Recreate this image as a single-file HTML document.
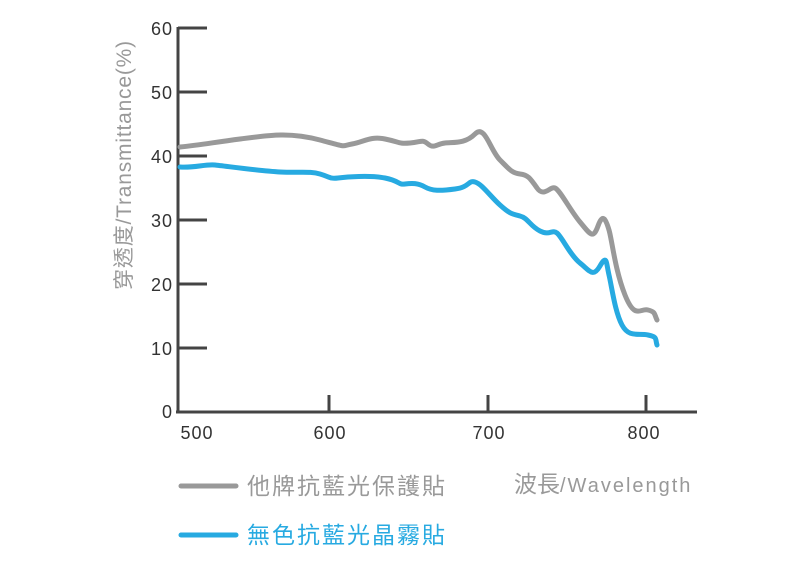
<!DOCTYPE html>
<html><head><meta charset="utf-8"><style>
body{margin:0;background:#fff;}
svg text{font-family:"Liberation Sans","Noto Sans CJK TC",sans-serif;}
</style></head><body>
<svg width="800" height="560" viewBox="0 0 800 560">
<g stroke="#444" stroke-width="3" fill="none">
<line x1="178" y1="27" x2="178" y2="413"/>
<line x1="176" y1="412" x2="697" y2="412"/>
<line x1="178" y1="28" x2="207" y2="28"/>
<line x1="178" y1="92" x2="207" y2="92"/>
<line x1="178" y1="156" x2="207" y2="156"/>
<line x1="178" y1="220" x2="207" y2="220"/>
<line x1="178" y1="284" x2="207" y2="284"/>
<line x1="178" y1="348" x2="207" y2="348"/>
<line x1="329" y1="395" x2="329" y2="412"/>
<line x1="488" y1="395" x2="488" y2="412"/>
<line x1="646" y1="395" x2="646" y2="412"/>
</g>
<g fill="#333" font-size="18" text-anchor="end" letter-spacing="1">
<text x="173" y="35">60</text><text x="173" y="99">50</text><text x="173" y="163">40</text>
<text x="173" y="227">30</text><text x="173" y="291">20</text><text x="173" y="355">10</text><text x="173" y="418">0</text>
</g>
<g fill="#333" font-size="18" text-anchor="middle" letter-spacing="1">
<text x="197" y="439">500</text><text x="330" y="439">600</text><text x="489" y="439">700</text><text x="644" y="439">800</text>
</g>
<text transform="translate(131,165) rotate(-90)" text-anchor="middle" fill="#999" font-size="21" letter-spacing="0.8">穿透度/Transmittance(%)</text>
<path fill="none" stroke="#999" stroke-width="5" stroke-linecap="round" stroke-linejoin="round"
d="M180,147 C200,145 210,143 240,139 S290,132 320,140 S340,146 352,144 S370,136 385,139 S398,144 410,143 S422,139 428,144 S436,144 445,143 S465,144 475,134 S490,150 500,160 S512,173 520,174 S530,178 537,188 S550,186 555,188 S570,210 580,222 S593,240 598,226 S606,220 609,230 S615,270 625,295 S640,308 648,310 S654,314 657,320"/>
<path fill="none" stroke="#27aae1" stroke-width="5" stroke-linecap="round" stroke-linejoin="round"
d="M180,167 C195,168 205,164 215,165 S260,171 280,172 S310,171 320,174 S330,179 338,178 S370,175 385,178 S398,185 405,184 S418,183 425,187 S440,191 455,189 S468,180 475,182 S490,196 500,205 S512,214 520,216 S530,226 540,231 S552,229 557,233 S570,255 580,263 S593,278 600,266 S606,262 609,275 S615,312 622,325 S638,333 648,335 S655,339 657,345"/>
<line x1="181" y1="486" x2="236" y2="486" stroke="#999" stroke-width="5" stroke-linecap="round"/>
<line x1="181" y1="535" x2="236" y2="535" stroke="#27aae1" stroke-width="5" stroke-linecap="round"/>
<text x="247" y="494" fill="#999" font-size="23" letter-spacing="2">他牌抗藍光保護貼</text>
<text x="247" y="543" fill="#27aae1" font-size="23" letter-spacing="2">無色抗藍光晶霧貼</text>
<text x="514" y="492" fill="#999" font-size="23">波長<tspan font-size="20" letter-spacing="2">/Wavelength</tspan></text>
</svg>
</body></html>
